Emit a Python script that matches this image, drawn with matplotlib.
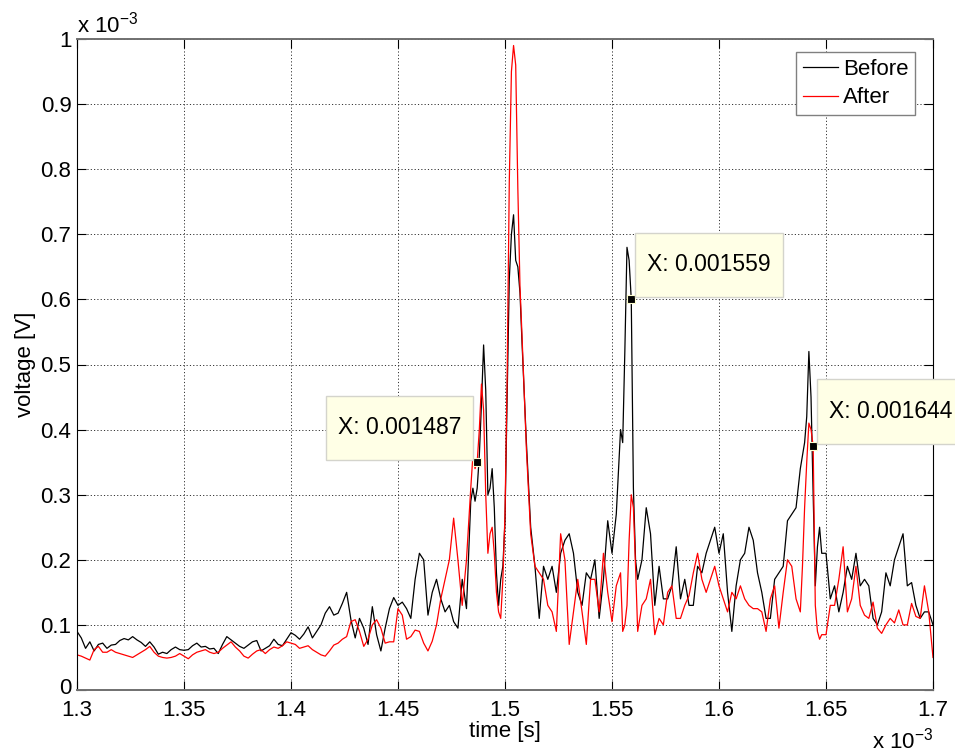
import numpy as np
import matplotlib
matplotlib.use('Agg')
import matplotlib.pyplot as plt
import matplotlib.transforms as mtransforms
from matplotlib.path import Path
from matplotlib.ticker import FixedLocator, FixedFormatter

plt.rcParams['font.family'] = ['Liberation Sans', 'DejaVu Sans']
plt.rcParams['mathtext.fontset'] = 'custom'
plt.rcParams['mathtext.rm'] = 'Liberation Sans'
plt.rcParams['mathtext.it'] = 'Liberation Sans:italic'
plt.rcParams['mathtext.bf'] = 'Liberation Sans:bold'

# sample times in ms (2 us steps, 1 us around the peaks)
time_ms = np.r_[1300:1484:2, 1484:1509, 1510:1555:2, 1555:1563,
                1564:1639:2, 1639:1649, 1650:1701:2] / 1000.0

# voltages in units of 1e-3 V
before_mv = [
    # 1.300 - 1.482
    0.090, 0.080, 0.064, 0.074, 0.060, 0.070, 0.072, 0.064, 0.069, 0.070,
    0.076, 0.079, 0.077, 0.082, 0.077, 0.073, 0.067, 0.074, 0.066, 0.055,
    0.058, 0.056, 0.062, 0.066, 0.062, 0.061, 0.062, 0.068, 0.072, 0.066,
    0.067, 0.063, 0.064, 0.056, 0.070, 0.082, 0.077, 0.072, 0.067, 0.064,
    0.069, 0.074, 0.076, 0.060, 0.064, 0.068, 0.078, 0.070, 0.068, 0.078,
    0.088, 0.084, 0.078, 0.086, 0.097, 0.080, 0.090, 0.100, 0.118, 0.128,
    0.115, 0.118, 0.133, 0.150, 0.108, 0.080, 0.110, 0.095, 0.070, 0.128,
    0.085, 0.060, 0.095, 0.125, 0.142, 0.130, 0.135, 0.125, 0.110, 0.170,
    0.210, 0.200, 0.115, 0.150, 0.170, 0.140, 0.120, 0.130, 0.105, 0.095,
    0.170, 0.125,
    # 1.484 - 1.508
    0.29, 0.31, 0.29, 0.31, 0.36, 0.44, 0.53, 0.46, 0.30, 0.31,
    0.34, 0.28, 0.18, 0.13, 0.17, 0.19, 0.26, 0.45, 0.63, 0.70,
    0.73, 0.66, 0.65, 0.61, 0.53,
    # 1.510 - 1.554
    0.38, 0.25, 0.19, 0.11, 0.19, 0.17, 0.19, 0.15, 0.21, 0.23,
    0.24, 0.21, 0.15, 0.13, 0.18, 0.17, 0.20, 0.11, 0.17, 0.26,
    0.21, 0.27, 0.40,
    # 1.555 - 1.562
    0.38, 0.52, 0.68, 0.66, 0.60, 0.31, 0.20, 0.17,
    # 1.564 - 1.638
    0.20, 0.28, 0.24, 0.13, 0.19, 0.14, 0.14, 0.16, 0.22, 0.14,
    0.17, 0.13, 0.13, 0.19, 0.18, 0.21, 0.23, 0.25, 0.21, 0.24,
    0.15, 0.09, 0.16, 0.20, 0.21, 0.25, 0.23, 0.18, 0.15, 0.11,
    0.11, 0.17, 0.18, 0.19, 0.26, 0.27, 0.28, 0.34,
    # 1.639 - 1.648
    0.36, 0.38, 0.42, 0.52, 0.45, 0.30, 0.16, 0.22, 0.25, 0.21,
    # 1.650 - 1.700
    0.21, 0.14, 0.16, 0.12, 0.15, 0.19, 0.17, 0.21, 0.16, 0.17,
    0.16, 0.11, 0.10, 0.12, 0.18, 0.16, 0.20, 0.22, 0.24, 0.16,
    0.165, 0.13, 0.11, 0.12, 0.12, 0.10,
]

after_mv = [
    # 1.300 - 1.482
    0.054, 0.052, 0.049, 0.046, 0.062, 0.067, 0.058, 0.058, 0.062, 0.058,
    0.056, 0.054, 0.052, 0.050, 0.054, 0.058, 0.062, 0.067, 0.058, 0.052,
    0.050, 0.049, 0.050, 0.052, 0.056, 0.052, 0.048, 0.054, 0.058, 0.060,
    0.062, 0.058, 0.056, 0.058, 0.064, 0.069, 0.074, 0.066, 0.060, 0.052,
    0.049, 0.055, 0.060, 0.062, 0.056, 0.062, 0.066, 0.064, 0.068, 0.074,
    0.072, 0.070, 0.064, 0.066, 0.068, 0.062, 0.058, 0.054, 0.052, 0.060,
    0.069, 0.072, 0.078, 0.082, 0.105, 0.108, 0.090, 0.067, 0.078, 0.100,
    0.108, 0.095, 0.072, 0.074, 0.074, 0.125, 0.115, 0.078, 0.082, 0.092,
    0.090, 0.072, 0.060, 0.075, 0.100, 0.140, 0.170, 0.200, 0.264, 0.200,
    0.130, 0.200,
    # 1.484 - 1.508
    0.31, 0.36, 0.34, 0.35, 0.40, 0.47, 0.43, 0.30, 0.21, 0.24,
    0.25, 0.21, 0.15, 0.12, 0.11, 0.17, 0.27, 0.48, 0.78, 0.95,
    0.99, 0.96, 0.77, 0.62, 0.54,
    # 1.510 - 1.554
    0.37, 0.24, 0.19, 0.18, 0.17, 0.13, 0.12, 0.09, 0.24, 0.20,
    0.07, 0.12, 0.17, 0.12, 0.07, 0.17, 0.17, 0.12, 0.21, 0.15,
    0.105, 0.16, 0.18,
    # 1.555 - 1.562
    0.09, 0.10, 0.13, 0.23, 0.30, 0.28, 0.19, 0.09,
    # 1.564 - 1.638
    0.13, 0.14, 0.17, 0.085, 0.11, 0.10, 0.15, 0.16, 0.11, 0.11,
    0.13, 0.145, 0.18, 0.21, 0.17, 0.15, 0.17, 0.19, 0.16, 0.14,
    0.12, 0.15, 0.14, 0.16, 0.14, 0.13, 0.125, 0.125, 0.12, 0.09,
    0.14, 0.16, 0.095, 0.15, 0.20, 0.19, 0.14, 0.12,
    # 1.639 - 1.648
    0.19, 0.28, 0.35, 0.41, 0.40, 0.375, 0.13, 0.09, 0.078, 0.085,
    # 1.650 - 1.700
    0.085, 0.13, 0.13, 0.17, 0.22, 0.12, 0.14, 0.19, 0.13, 0.115,
    0.11, 0.135, 0.095, 0.087, 0.10, 0.11, 0.103, 0.123, 0.10, 0.10,
    0.133, 0.113, 0.11, 0.16, 0.12, 0.05,
]

x_ticks = [1.3, 1.35, 1.4, 1.45, 1.5, 1.55, 1.6, 1.65, 1.7]
x_labels = ['1.3', '1.35', '1.4', '1.45', '1.5', '1.55', '1.6', '1.65', '1.7']
y_ticks = [0, 0.1, 0.2, 0.3, 0.4, 0.5, 0.6, 0.7, 0.8, 0.9, 1.0]
y_labels = ['0', '0.1', '0.2', '0.3', '0.4', '0.5', '0.6', '0.7', '0.8', '0.9', '1']

# data tips: time (ms), which curve, side of the box
data_tips = [(1.487, 'after', -1), (1.559, 'before', 1), (1.644, 'after', 1)]


def tip_box(x0, y0, width, height, mutation_size):
    # MATLAB like datatip box, more vertical padding than horizontal
    padx = 0.52 * mutation_size
    pady = 0.9 * mutation_size
    x0 -= padx
    y0 -= pady
    w = width + 2 * padx
    h = height + 2 * pady
    return Path([(x0, y0), (x0 + w, y0), (x0 + w, y0 + h), (x0, y0 + h), (x0, y0)], closed=True)


fig = plt.figure(figsize=(9.55, 7.56), dpi=100)
ax = fig.add_axes([77 / 955, 66 / 756, 856 / 955, 651 / 756])

ax.plot(time_ms, before_mv, color='black', lw=0.9, label='Before')
ax.plot(time_ms, after_mv, color='#ff0000', lw=0.9, label='After')

ax.set_xlim(1.3, 1.7)
ax.set_ylim(0, 1)
ax.xaxis.set_major_locator(FixedLocator(x_ticks))
ax.xaxis.set_major_formatter(FixedFormatter(x_labels))
ax.yaxis.set_major_locator(FixedLocator(y_ticks))
ax.yaxis.set_major_formatter(FixedFormatter(y_labels))
ax.tick_params(direction='in', length=6.5, width=0.8, top=True, right=True,
               labelsize=16, pad=4)
ax.tick_params(axis='x', pad=7)
ax.set_axisbelow(True)
ax.grid(True, color='#333333', linestyle=(0, (1.2, 2.2)), linewidth=0.7)

# lift the "0" label a little so it does not run into "1.3"
zero_label = ax.yaxis.get_major_ticks()[0].label1
zero_label.set_transform(zero_label.get_transform()
                         + mtransforms.ScaledTranslation(0, 0.04, fig.dpi_scale_trans))

for side in ['left', 'right']:
    ax.spines[side].set_color('black')
    ax.spines[side].set_linewidth(0.8)
for side in ['top', 'bottom']:
    ax.spines[side].set_color('#707070')
    ax.spines[side].set_linewidth(1.4)

ax.set_xlabel('time [s]', fontsize=16, labelpad=0)
ax.set_ylabel('voltage [V]', fontsize=16, labelpad=3)

ax.annotate(r'x 10$^{-3}$', xy=(0, 1), xycoords='axes fraction', xytext=(0, 6),
            textcoords='offset pixels', ha='left', va='baseline', fontsize=16)
ax.annotate(r'x 10$^{-3}$', xy=(1, 0), xycoords='axes fraction', xytext=(0, -58),
            textcoords='offset pixels', ha='right', va='baseline', fontsize=16)

leg = ax.legend(loc='upper right', bbox_to_anchor=(0.979, 0.980), borderaxespad=0,
                fontsize=16, fancybox=False, edgecolor='#808080', framealpha=1,
                handlelength=1.6, handletextpad=0.2, borderpad=0.3, labelspacing=0.35)
leg.get_frame().set_linewidth(1.0)

series = {'before': before_mv, 'after': after_mv}
for t_tip, name, side in data_tips:
    v_tip = np.interp(t_tip, time_ms, series[name])
    ax.plot(t_tip, v_tip, marker='s', ms=6, mfc='black', mec='#ffffd0', mew=0.8, zorder=4)
    ax.annotate('X: %.6f' % (t_tip * 1e-3), xy=(t_tip, v_tip), xytext=(16 * side, 23),
                textcoords='offset pixels', ha='left' if side > 0 else 'right',
                va='bottom', fontsize=16.5, annotation_clip=False, zorder=5,
                bbox=dict(boxstyle=tip_box, fc='#ffffe6', ec='#d4d4cc', lw=1.0))

fig.savefig('out.png', dpi=100)
